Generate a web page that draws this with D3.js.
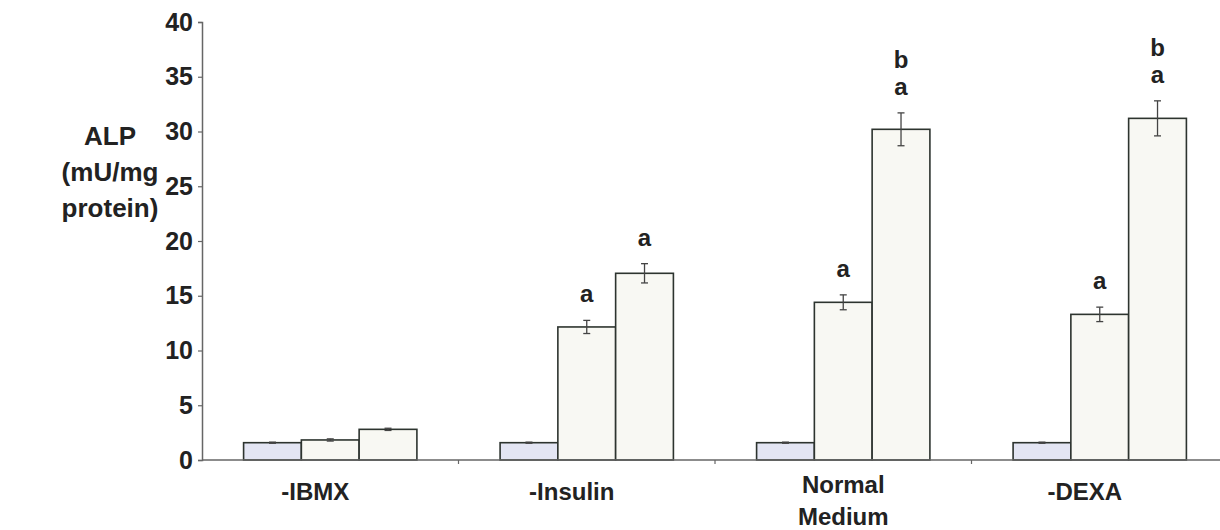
<!DOCTYPE html>
<html>
<head>
<meta charset="utf-8">
<script src="https://cdn.jsdelivr.net/npm/d3@7"></script>
<style>
  html, body { margin: 0; padding: 0; background: #ffffff; }
  svg { display: block; }
  text { font-family: "Liberation Sans", Arial, sans-serif; font-weight: bold; fill: #222; }
</style>
</head>
<body>
<svg id="chart" width="1220" height="530"></svg>
<script>
// Treatment groups (x categories); multi-line labels split on "\n"
const categories = ["-IBMX", "-Insulin", "Normal\nMedium", "-DEXA"];
const seriesNames = ["s1", "s2", "s3"];

// Mean ALP activity (mU/mg protein) per series, one value per category
const s1Values = [1.58, 1.58, 1.58, 1.58];
const s2Values = [1.83, 12.15, 14.4, 13.3];
const s3Values = [2.8, 17.05, 30.2, 31.2];

// Error bar half-widths
const s1Errors = [0.05, 0.05, 0.05, 0.05];
const s2Errors = [0.1, 0.6, 0.68, 0.66];
const s3Errors = [0.1, 0.88, 1.5, 1.6];

// Significance letters, listed bottom-up
const s2Letters = [[], ["a"], ["a"], ["a"]];
const s3Letters = [[], ["a"], ["a", "b"], ["a", "b"]];

const yTicks = [0, 5, 10, 15, 20, 25, 30, 35, 40];
const yLabelLines = ["ALP", "(mU/mg", "protein)"];

const values = [s1Values, s2Values, s3Values];
const errors = [s1Errors, s2Errors, s3Errors];
const letters = [[[], [], [], []], s2Letters, s3Letters];
const fills = ["#e3e5f3", "#f8f8f3", "#f8f8f3"];

const svg = d3.select("#chart");

const x0 = d3.scaleBand().domain(categories).range([202, 1228]);
const x1 = d3.scaleBand().domain(seriesNames).range([0, x0.bandwidth()]).paddingOuter(0.72);
const y = d3.scaleLinear().domain([0, 40]).range([460, 22]);

// Y axis
const yAxis = d3.axisLeft(y).tickValues(yTicks).tickSize(4).tickPadding(5).tickFormat(d3.format("d"));
const gy = svg.append("g").attr("transform", "translate(202,0)").call(yAxis);
gy.select(".domain").attr("stroke", "#666").attr("stroke-width", 1.5);
gy.selectAll(".tick line").attr("stroke", "#666").attr("stroke-width", 1.2);
gy.selectAll(".tick text").style("font-size", "25px").style("font-weight", "bold")
  .style("font-family", "'Liberation Sans', Arial, sans-serif").attr("fill", "#222");

// Bars
const rows = [];
categories.forEach((c, i) => {
  seriesNames.forEach((s, j) => {
    rows.push({ cat: c, ser: s, j, v: values[j][i], e: errors[j][i], lab: letters[j][i] });
  });
});

const bars = svg.append("g");
bars.selectAll("rect").data(rows).join("rect")
  .attr("x", d => x0(d.cat) + x1(d.ser))
  .attr("y", d => y(d.v))
  .attr("width", x1.bandwidth())
  .attr("height", d => y(0) - y(d.v))
  .attr("fill", d => fills[d.j])
  .attr("stroke", "#2d342f")
  .attr("stroke-width", 1.6);

// Error bars
const eb = svg.append("g").attr("stroke", "#444").attr("stroke-width", 1.3);
rows.forEach(d => {
  const cx = x0(d.cat) + x1(d.ser) + x1.bandwidth() / 2;
  const top = y(d.v + d.e), bot = y(d.v - d.e);
  eb.append("line").attr("x1", cx).attr("x2", cx).attr("y1", top).attr("y2", bot);
  eb.append("line").attr("x1", cx - 3.5).attr("x2", cx + 3.5).attr("y1", top).attr("y2", top);
  eb.append("line").attr("x1", cx - 3.5).attr("x2", cx + 3.5).attr("y1", bot).attr("y2", bot);
});

// Significance letters above error bars
const lg = svg.append("g");
rows.forEach(d => {
  const cx = x0(d.cat) + x1(d.ser) + x1.bandwidth() / 2;
  const base = y(d.v + d.e) - 18;
  d.lab.forEach((t, k) => {
    lg.append("text").attr("x", cx).attr("y", base - k * 27)
      .attr("text-anchor", "middle").style("font-size", "24px").text(t);
  });
});

// X axis with ticks between groups
const gx = svg.append("g");
gx.append("line").attr("x1", 202).attr("x2", 1228).attr("y1", y(0)).attr("y2", y(0))
  .attr("stroke", "#666").attr("stroke-width", 1.5);
categories.slice(1).forEach(c => {
  gx.append("line").attr("x1", x0(c)).attr("x2", x0(c)).attr("y1", y(0)).attr("y2", y(0) + 4)
    .attr("stroke", "#666").attr("stroke-width", 1.2);
});
categories.forEach(c => {
  const lines = c.split("\n");
  const single = lines.length === 1;
  const cx = x0(c) + x0.bandwidth() / 2 + (single ? -15 : 0);
  const t = gx.append("text").attr("x", cx).attr("y", single ? 500 : 493)
    .attr("text-anchor", "middle").style("font-size", "24px");
  lines.forEach((line, k) => {
    t.append("tspan").attr("x", cx).attr("dy", k === 0 ? 0 : 32).text(line);
  });
});

// Y axis title
const yt = svg.append("text").attr("text-anchor", "middle").style("font-size", "26px");
yLabelLines.forEach((line, k) => {
  yt.append("tspan").attr("x", 110).attr("y", 145 + k * 36).text(line);
});
</script>
</body>
</html>
